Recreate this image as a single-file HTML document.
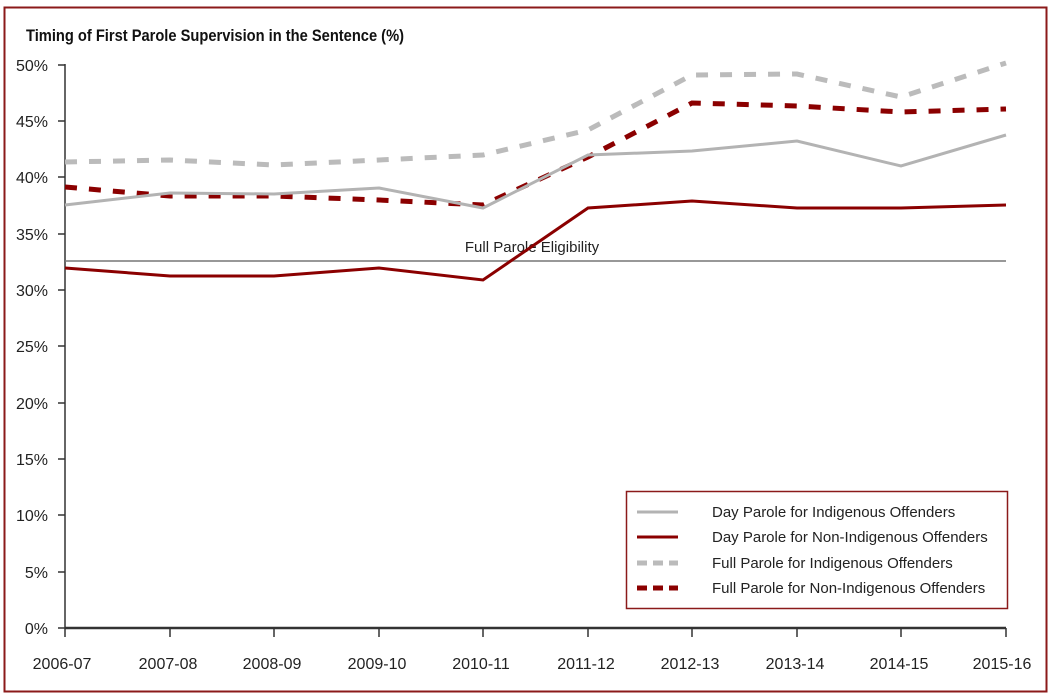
<!DOCTYPE html>
<html><head><style>body{margin:0;background:#fff}svg{display:block}text{font-family:"Liberation Sans",sans-serif}</style></head><body>
<svg width="1055" height="698" xmlns="http://www.w3.org/2000/svg">
<rect x="4.5" y="7.5" width="1042" height="684" fill="#fff" stroke="#8b1a1a" stroke-width="2"/>
<text x="26" y="41" font-size="17" font-weight="bold" fill="#111" textLength="378" lengthAdjust="spacingAndGlyphs">Timing of First Parole Supervision in the Sentence (%)</text>
<g font-size="16" fill="#222" text-anchor="end">
<text x="48" y="71">50%</text><text x="48" y="127">45%</text><text x="48" y="183">40%</text><text x="48" y="240">35%</text><text x="48" y="296">30%</text><text x="48" y="352">25%</text><text x="48" y="409">20%</text><text x="48" y="465">15%</text><text x="48" y="521">10%</text><text x="48" y="578">5%</text><text x="48" y="634">0%</text>
</g>
<g stroke="#333" stroke-width="1.5">
<line x1="65" y1="64" x2="65" y2="628"/><line x1="58" y1="65" x2="65" y2="65"/><line x1="58" y1="121" x2="65" y2="121"/><line x1="58" y1="177" x2="65" y2="177"/><line x1="58" y1="234" x2="65" y2="234"/><line x1="58" y1="290" x2="65" y2="290"/><line x1="58" y1="346" x2="65" y2="346"/><line x1="58" y1="403" x2="65" y2="403"/><line x1="58" y1="459" x2="65" y2="459"/><line x1="58" y1="515" x2="65" y2="515"/><line x1="58" y1="572" x2="65" y2="572"/><line x1="58" y1="628" x2="65" y2="628"/>
</g>
<line x1="65" y1="628" x2="1006" y2="628" stroke="#333" stroke-width="2.5"/>
<g stroke="#333" stroke-width="1.5">
<line x1="65" y1="628" x2="65" y2="637"/><line x1="170" y1="628" x2="170" y2="637"/><line x1="274" y1="628" x2="274" y2="637"/><line x1="379" y1="628" x2="379" y2="637"/><line x1="483" y1="628" x2="483" y2="637"/><line x1="588" y1="628" x2="588" y2="637"/><line x1="692" y1="628" x2="692" y2="637"/><line x1="797" y1="628" x2="797" y2="637"/><line x1="901" y1="628" x2="901" y2="637"/><line x1="1006" y1="628" x2="1006" y2="637"/>
</g>
<g font-size="16" fill="#222" text-anchor="middle">
<text x="62" y="669">2006-07</text><text x="168" y="669">2007-08</text><text x="272" y="669">2008-09</text><text x="377" y="669">2009-10</text><text x="481" y="669">2010-11</text><text x="586" y="669">2011-12</text><text x="690" y="669">2012-13</text><text x="795" y="669">2013-14</text><text x="899" y="669">2014-15</text><text x="1002" y="669">2015-16</text>
</g>
<line x1="65" y1="261" x2="1006" y2="261" stroke="#777" stroke-width="1.5"/>
<text x="532" y="252" font-size="15" fill="#222" text-anchor="middle">Full Parole Eligibility</text>
<g fill="none" stroke-width="3">
<polyline stroke="#bbb" stroke-dasharray="12,12" stroke-width="5" points="65,162 170,160 274,165 379,160 483,155 588,130 692,75 797,74 901,97 1006,63"/>
<polyline stroke="#8b0000" stroke-dasharray="12,12" stroke-width="5" points="65,187 170,196 274,196 379,200 483,205 588,157 692,103 797,106 901,112 1006,109"/>
<polyline stroke="#b3b3b3" points="65,205 170,193 274,194 379,188 483,208 588,155 692,151 797,141 901,166 1006,135"/>
<polyline stroke="#8b0000" points="65,268 170,276 274,276 379,268 483,280 588,208 692,201 797,208 901,208 1006,205"/>
</g>
<rect x="626.5" y="491.5" width="381" height="117" fill="#fff" stroke="#8b1a1a" stroke-width="1.5"/>
<line x1="637" y1="512" x2="678" y2="512" stroke="#b3b3b3" stroke-width="3"/>
<line x1="637" y1="537" x2="678" y2="537" stroke="#8b0000" stroke-width="3"/>
<line x1="637" y1="563" x2="678" y2="563" stroke="#bbb" stroke-width="5" stroke-dasharray="10,6"/>
<line x1="637" y1="588" x2="678" y2="588" stroke="#8b0000" stroke-width="5" stroke-dasharray="10,6"/>
<g font-size="15" fill="#222">
<text x="712" y="517">Day Parole for Indigenous Offenders</text>
<text x="712" y="542">Day Parole for Non-Indigenous Offenders</text>
<text x="712" y="568">Full Parole for Indigenous Offenders</text>
<text x="712" y="593">Full Parole for Non-Indigenous Offenders</text>
</g>
</svg>
</body></html>
